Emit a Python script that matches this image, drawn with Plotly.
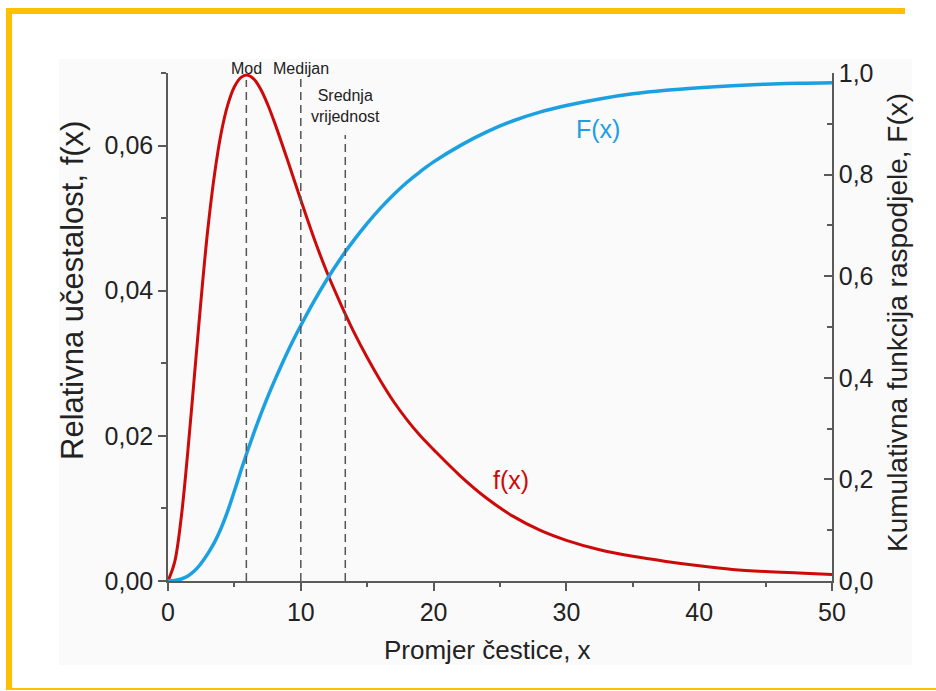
import plotly.graph_objects as go

# ---------------- data ----------------
x_f = [0, 0.5, 1.0, 1.5, 2.0, 2.5, 3.0, 3.5, 4.0, 4.5, 5.0, 5.5, 6.0, 6.5, 7.0, 7.5, 8.0,
       9.0, 10.0, 11.0, 12.0, 13.0, 14.0, 15.0, 16.0, 17.0, 18.0, 19.0, 20.0, 22.0, 24.0,
       26.0, 28.0, 30.0, 32.5, 35.0, 37.5, 40.0, 42.5, 45.0, 47.5, 50.0]
f_vals = [0, 0.0026, 0.0088, 0.0180, 0.0285, 0.0390, 0.0485, 0.0560, 0.0617, 0.0656, 0.0681,
          0.0694, 0.0697, 0.0691, 0.0677, 0.0657, 0.0633, 0.0580, 0.0525, 0.0472, 0.0424,
          0.0382, 0.0343, 0.0308, 0.0276, 0.0247, 0.0222, 0.0200, 0.0181, 0.0145, 0.0114,
          0.0089, 0.0070, 0.0056, 0.0043, 0.0034, 0.0027, 0.0021, 0.0016, 0.0013, 0.0011, 0.0009]

x_F = [0, 0.5, 1.0, 1.5, 2.0, 2.5, 3.0, 3.5, 4.0, 4.5, 5.0, 5.5, 6.0, 6.5, 7.0, 7.5, 8.0,
       9.0, 10.0, 11.0, 12.0, 13.0, 14.0, 15.0, 16.0, 17.0, 18.0, 19.0, 20.0, 22.0, 24.0,
       26.0, 28.0, 30.0, 32.5, 35.0, 37.5, 40.0, 42.5, 45.0, 47.5, 50.0]
F_vals = [0, 0.001, 0.004, 0.010, 0.020, 0.035, 0.054, 0.076, 0.104, 0.138, 0.177, 0.218,
          0.257, 0.294, 0.329, 0.362, 0.393, 0.451, 0.503, 0.551, 0.595, 0.635, 0.671, 0.704,
          0.734, 0.761, 0.785, 0.806, 0.825, 0.857, 0.884, 0.906, 0.923, 0.936, 0.949, 0.959,
          0.966, 0.971, 0.975, 0.978, 0.980, 0.981]

marker_names = ["Mod", "Medijan", "Srednja<br>vrijednost"]
marker_x = [5.9, 10.0, 13.35]

x_tickvals = [0, 10, 20, 30, 40, 50]
x_ticktext = ["0", "10", "20", "30", "40", "50"]
y_tickvals = [0, 0.02, 0.04, 0.06]
y_ticktext = ["0,00", "0,02", "0,04", "0,06"]
y2_tickvals = [0, 0.2, 0.4, 0.6, 0.8, 1.0]
y2_ticktext = ["0,0", "0,2", "0,4", "0,6", "0,8", "1,0"]

x_title = "Promjer čestice, x"
y_title = "Relativna učestalost, f(x)"
y2_title = "Kumulativna funkcija raspodjele, F(x)"

# ---------------- style ----------------
RED = "#CC0A0A"
BLUE = "#1BA0E2"
AXIS = "#5a5a5a"
TXT = "#222222"
ORANGE = "#FFC000"
PANEL = "#FAFAFA"
FONT = "Liberation Sans, Arial, sans-serif"

W, H = 936, 691
ML, MR, MT, MB = 168, 104, 73, 110
PW, PH = W - ML - MR, H - MT - MB


def px_x(px):
    return (px - ML) / PW


def px_y(py):
    return (H - MB - py) / PH


fig = go.Figure()
fig.add_trace(go.Scatter(x=x_f, y=f_vals, mode="lines", yaxis="y",
                         line=dict(color=RED, width=3, shape="spline", smoothing=1.0),
                         showlegend=False, hoverinfo="skip"))
fig.add_trace(go.Scatter(x=x_F, y=F_vals, mode="lines", yaxis="y2",
                         line=dict(color=BLUE, width=3.5, shape="spline", smoothing=1.0),
                         showlegend=False, hoverinfo="skip"))

shapes = []
# grey panel
shapes.append(dict(type="rect", xref="paper", yref="paper", layer="below",
                   x0=px_x(59), x1=px_x(912), y0=px_y(665), y1=px_y(59),
                   fillcolor=PANEL, line=dict(width=0)))
# orange frame: top band, left band, thin bottom line
shapes.append(dict(type="rect", xref="paper", yref="paper", layer="below",
                   x0=px_x(6), x1=px_x(905), y0=px_y(14), y1=px_y(8),
                   fillcolor=ORANGE, line=dict(width=0)))
shapes.append(dict(type="rect", xref="paper", yref="paper", layer="below",
                   x0=px_x(6), x1=px_x(12), y0=px_y(690), y1=px_y(8),
                   fillcolor=ORANGE, line=dict(width=0)))
shapes.append(dict(type="rect", xref="paper", yref="paper", layer="below",
                   x0=px_x(6), x1=px_x(936), y0=px_y(690), y1=px_y(688),
                   fillcolor=ORANGE, line=dict(width=0)))
# dashed marker lines
line_tops = [80, 78, 135]
for mx, top in zip(marker_x, line_tops):
    shapes.append(dict(type="line", xref="x", yref="paper", x0=mx, x1=mx,
                       y0=0, y1=px_y(top), line=dict(color="#555555", width=1.5, dash="8px,5px")))

annotations = []
label_y = [68, 68, 106]
for name, mx, ly in zip(marker_names, marker_x, label_y):
    annotations.append(dict(x=mx, y=px_y(ly), xref="x", yref="paper", text=name, showarrow=False,
                            font=dict(family=FONT, size=16, color=TXT), xanchor="center",
                            yanchor="middle"))
annotations.append(dict(x=32.4, y=0.89, xref="x", yref="y2", text="F(x)", showarrow=False,
                        font=dict(family=FONT, size=25, color=BLUE)))
annotations.append(dict(x=25.8, y=0.0139, xref="x", yref="y", text="f(x)", showarrow=False,
                        font=dict(family=FONT, size=25, color=RED)))
# axis titles
annotations.append(dict(x=px_x(487), y=px_y(650), xref="paper", yref="paper", text=x_title,
                        showarrow=False, xanchor="center", yanchor="middle",
                        font=dict(family=FONT, size=26, color=TXT)))
annotations.append(dict(x=px_x(72), y=px_y(291), xref="paper", yref="paper", text=y_title,
                        showarrow=False, xanchor="center", yanchor="middle", textangle=-90,
                        font=dict(family=FONT, size=31, color=TXT)))
annotations.append(dict(x=px_x(897), y=px_y(323), xref="paper", yref="paper", text=y2_title,
                        showarrow=False, xanchor="center", yanchor="middle", textangle=-90,
                        font=dict(family=FONT, size=28, color=TXT)))

tickfont = dict(family=FONT, size=25, color=TXT)

fig.update_layout(
    width=W, height=H, autosize=False,
    margin=dict(l=ML, r=MR, t=MT, b=MB),
    paper_bgcolor="white", plot_bgcolor="rgba(0,0,0,0)",
    shapes=shapes, annotations=annotations,
    xaxis=dict(range=[0, 50], showgrid=False, zeroline=False, showline=True,
               linecolor=AXIS, linewidth=1.5, ticks="outside", ticklen=8, tickwidth=1.5,
               tickcolor=AXIS, tickmode="array", tickvals=x_tickvals, ticktext=x_ticktext,
               minor=dict(tickmode="linear", tick0=0, dtick=5, ticks="outside", ticklen=4,
                          tickwidth=1.5, tickcolor=AXIS, showgrid=False),
               tickfont=tickfont),
    yaxis=dict(range=[0, 0.07], showgrid=False, zeroline=False, showline=True,
               linecolor=AXIS, linewidth=1.5, ticks="outside", ticklen=8, tickwidth=1.5,
               tickcolor=AXIS, tickmode="array", tickvals=y_tickvals, ticktext=y_ticktext,
               minor=dict(tickmode="linear", tick0=0, dtick=0.01, ticks="outside", ticklen=5,
                          tickwidth=1.5, tickcolor=AXIS, showgrid=False),
               tickfont=tickfont),
    yaxis2=dict(range=[0, 1.0], overlaying="y", side="right", anchor="x",
                showgrid=False, zeroline=False, showline=True,
                linecolor=AXIS, linewidth=1.5, ticks="inside", ticklen=8, tickwidth=1.5,
                tickcolor=AXIS, tickmode="array", tickvals=y2_tickvals, ticktext=y2_ticktext,
                minor=dict(tickmode="linear", tick0=0, dtick=0.1, ticks="inside", ticklen=5,
                           tickwidth=1.5, tickcolor=AXIS, showgrid=False),
                tickfont=tickfont),
)

# remove the browser's default 8px page margin so the figure fills the window exactly
fig.write_html("out.html", config={"displayModeBar": False},
               post_script="document.body.style.margin='0';document.body.style.overflow='hidden';")
